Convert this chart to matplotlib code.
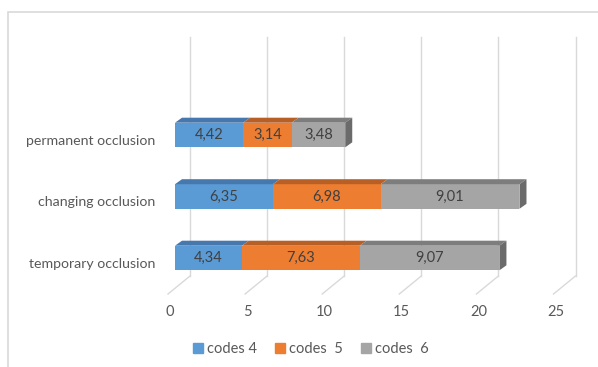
import matplotlib.pyplot as plt
from matplotlib.patches import Polygon, Rectangle, Patch

plt.rcParams['font.family'] = ['Lato', 'DejaVu Sans']

categories = ['temporary occlusion', 'changing occlusion', 'permanent occlusion']
series_names = ['codes 4', 'codes  5', 'codes  6']
codes4 = [4.34, 6.35, 4.42]
codes5 = [7.63, 6.98, 3.14]
codes6 = [9.07, 9.01, 3.48]
xticks = [0, 5, 10, 15, 20, 25]

front = ['#5b9bd5', '#ed7d31', '#a5a5a5']
top = ['#4677ad', '#b85f26', '#7d7d7d']
side_col = '#6b6b6b'
grid_col = '#d9d9d9'
text_col = '#595959'

W, H = 598, 367
fig = plt.figure(figsize=(W / 100, H / 100), dpi=100)
ax = fig.add_axes([0, 0, 1, 1])
# one value unit = 15.42 px, one category step = 61.5 px
ux, uy = 15.42, 61.5
x0px, y0px = 175, 258
ax.set_xlim(-x0px / ux, (W - x0px) / ux)
ax.set_ylim((y0px - H) / uy, y0px / uy)
ax.axis('off')

# chart border (bottom and right edges fall outside the image)
fig.patches.append(Rectangle((7.5 / W, -0.05), 1, 1.05 - 12 / H,
                             transform=fig.transFigure, fill=False,
                             ec=grid_col, lw=1.2))

# back wall and floor
back_dx = 15 / ux
wall_top = (y0px - 37) / uy
wall_bot = (y0px - 276) / uy
floor_dx = -7 / ux
floor_y = (y0px - 294) / uy
for t in xticks:
    ax.plot([t + back_dx, t + back_dx], [wall_bot, wall_top], color=grid_col, lw=1, zorder=0)
    ax.plot([t + back_dx, t + floor_dx], [wall_bot, floor_y], color=grid_col, lw=1, zorder=0)
    ax.text(t - 5 / ux, (y0px - 312) / uy, str(t), ha='center', va='center',
            fontsize=10.5, color=text_col)

# 3D stacked bars
h = 0.4
dx, dy = 7 / ux, 5 / uy
series = [codes4, codes5, codes6]
for i, cat in enumerate(categories):
    left = 0
    for j, vals in enumerate(series):
        v = vals[i]
        ax.barh(i, v, left=left, height=h, color=front[j], zorder=2)
        yt = i + h / 2
        ax.add_patch(Polygon([(left, yt), (left + v, yt), (left + v + dx, yt + dy),
                              (left + dx, yt + dy)], closed=True, fc=top[j], ec='none', zorder=2))
        ax.text(left + v / 2, i, f'{v:.2f}'.replace('.', ','), ha='center', va='center',
                fontsize=10.5, color='#404040', zorder=3)
        left += v
    yb = i - h / 2
    ax.add_patch(Polygon([(left, yb), (left, yt), (left + dx, yt + dy), (left + dx, yb + dy)],
                         closed=True, fc=side_col, ec='none', zorder=2))
    ax.text(-20 / ux, i - 6 / uy, cat, ha='right', va='center', fontsize=10.2, color=text_col)

handles = [Patch(color=c, label=n) for c, n in zip(front, series_names)]
fig.legend(handles=handles, loc='center', bbox_to_anchor=(311 / W, 1 - 349 / H), ncol=3,
           frameon=False, fontsize=10.5, handlelength=0.7, handleheight=0.7,
           handletextpad=0.3, columnspacing=1.2, labelcolor=text_col)

fig.savefig('out.png', dpi=100)
